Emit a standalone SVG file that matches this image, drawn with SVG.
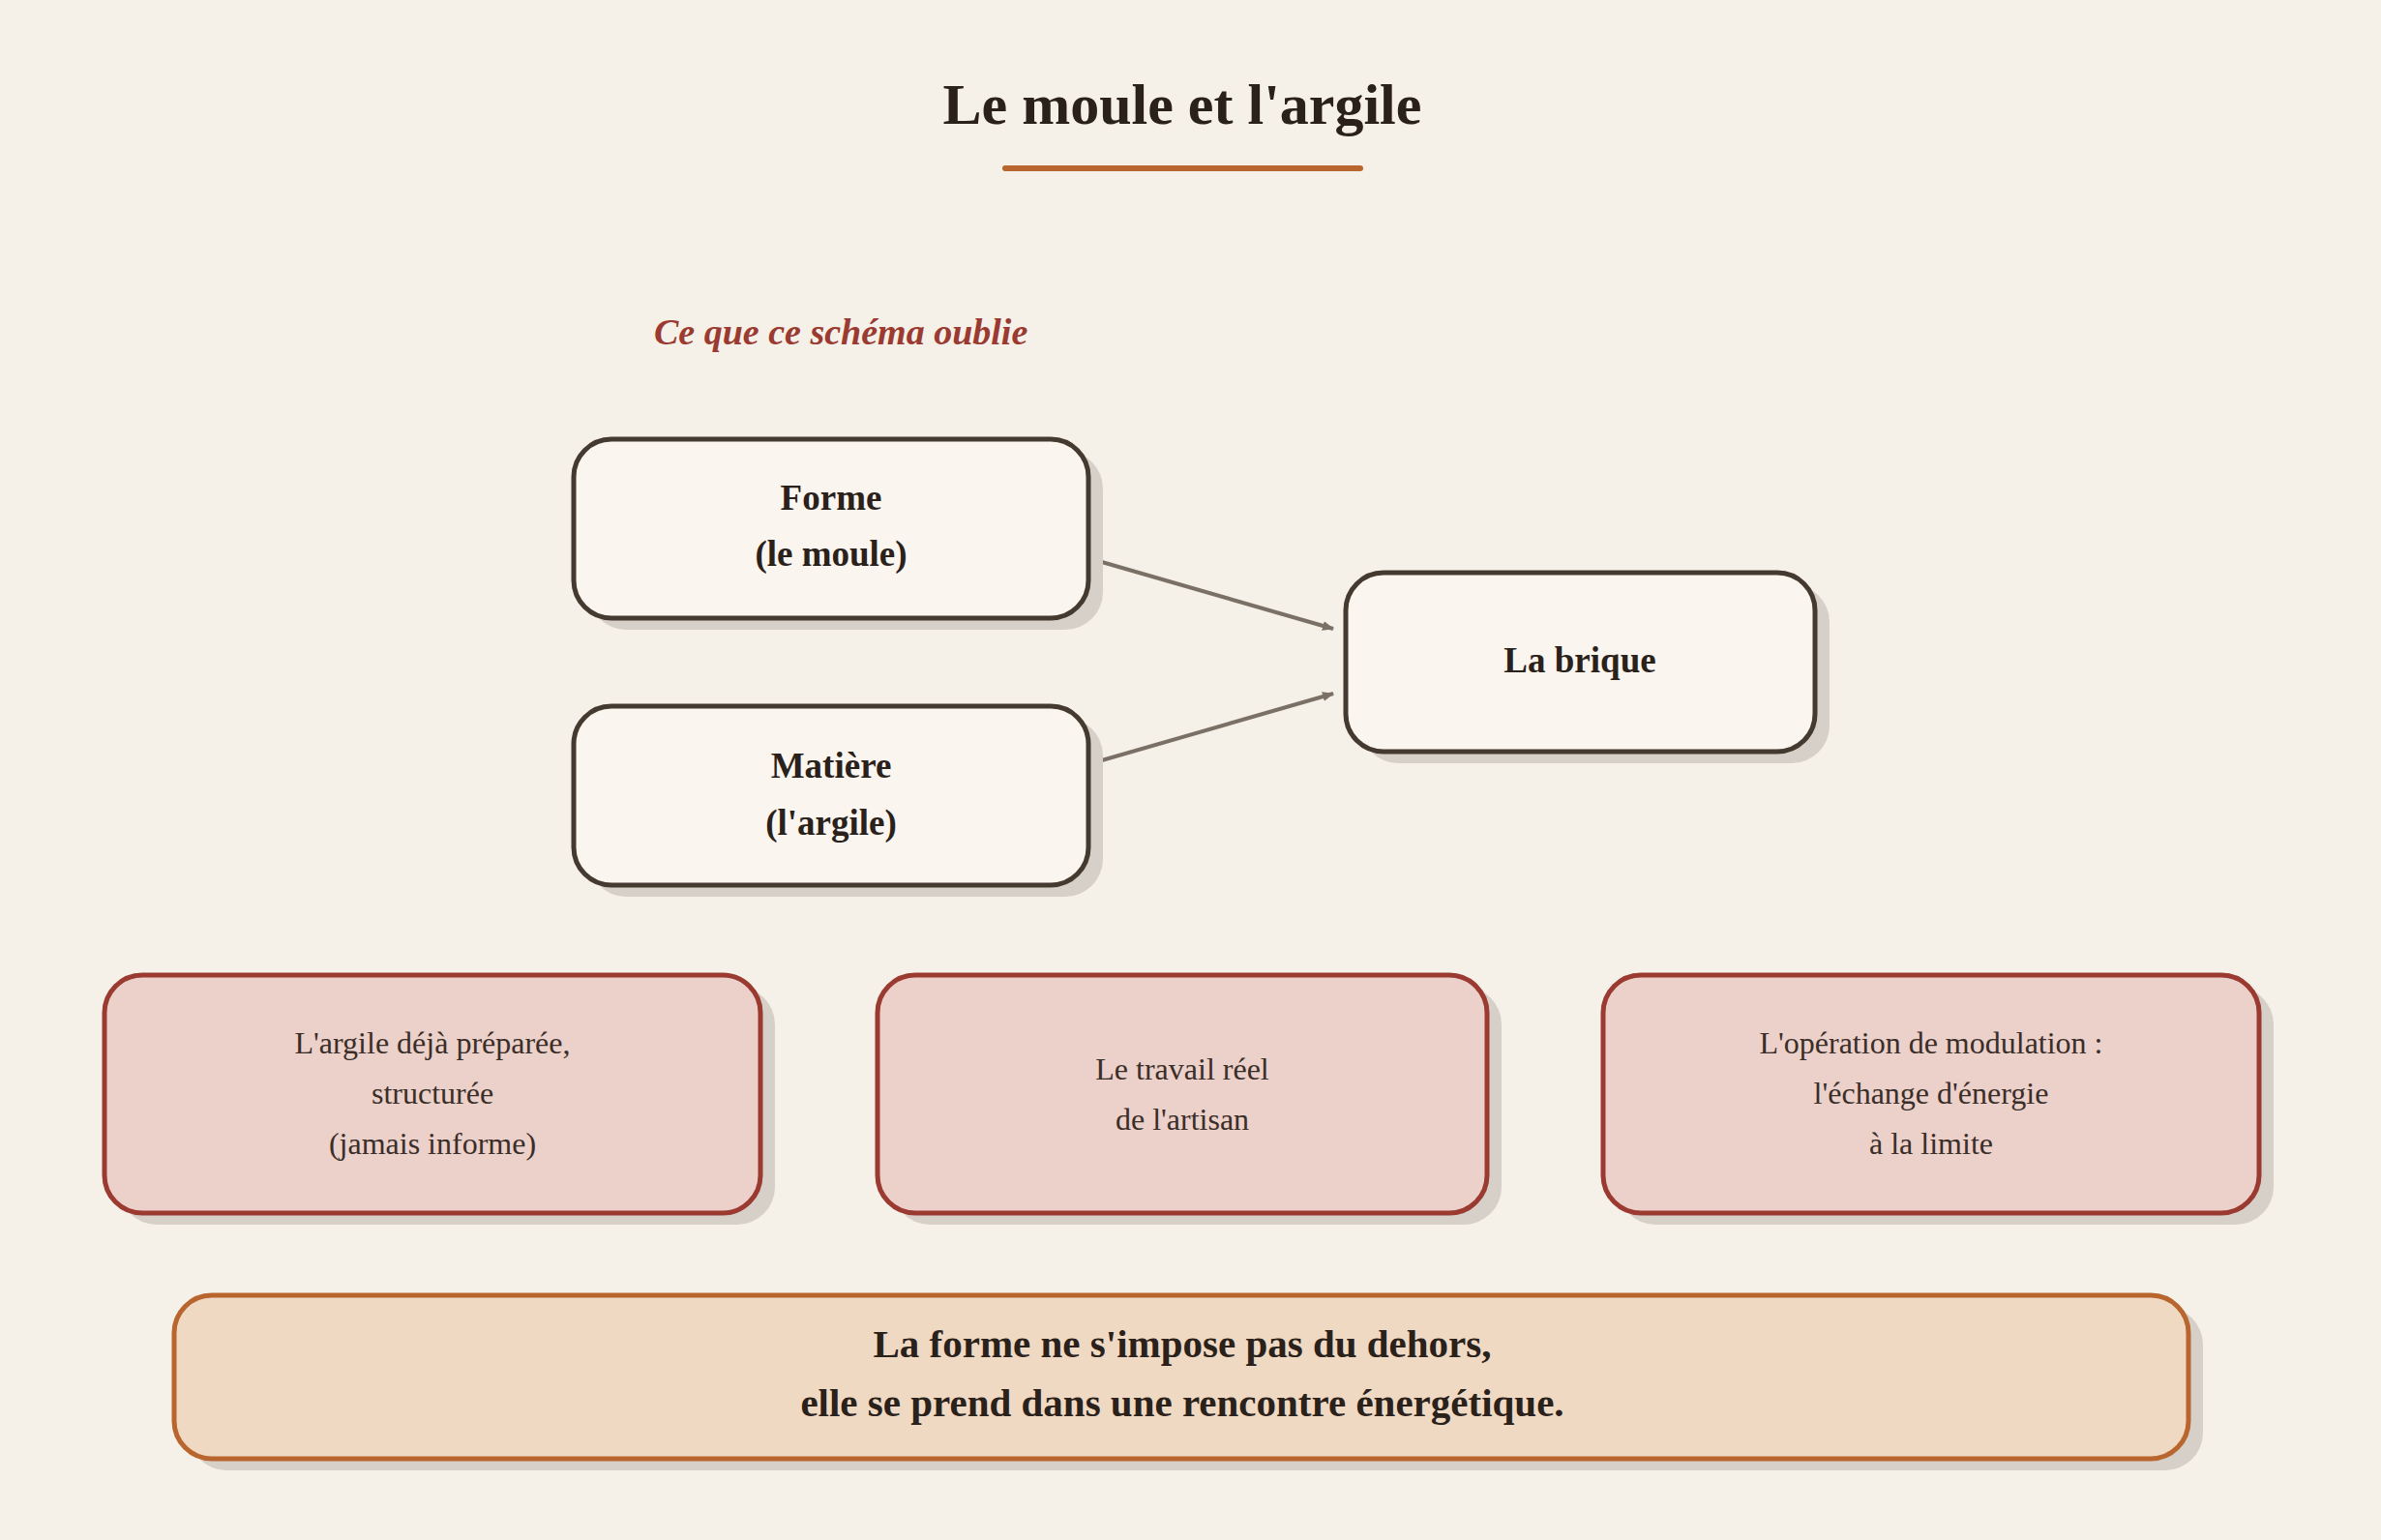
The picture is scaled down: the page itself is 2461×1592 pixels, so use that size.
<svg xmlns="http://www.w3.org/2000/svg" width="2461" height="1592" viewBox="0 0 2461 1592">
<style>
text{font-family:"Liberation Serif","DejaVu Serif",serif;fill:#2a211b;text-anchor:middle}
.n{font-size:37px;font-weight:bold}
.r{font-size:32px;fill:#3a2e28}
.sh{fill:#d6d0c8}
.box{fill:#faf5ee;stroke:#453a30;stroke-width:5}
.red{fill:#ecd0ca;stroke:#9a3a30;stroke-width:5}
</style>
<defs>
<marker id="ah" markerWidth="12" markerHeight="10" refX="11" refY="5" orient="auto" markerUnits="userSpaceOnUse" viewBox="0 0 12 10"><path d="M0,0L12,5L0,10z" fill="#7a7066"/></marker>
</defs>
<rect width="2461" height="1592" fill="#f5f0e8"/>
<g id="title">
<text x="1222" y="128" style="font-size:60px;font-weight:bold">Le moule et l'argile</text>
<line x1="1039" y1="174" x2="1406" y2="174" stroke="#b8652e" stroke-width="6" stroke-linecap="round"/>
<text x="676" y="356" style="font-size:38px;font-weight:bold;font-style:italic;fill:#9a3a30;text-anchor:start">Ce que ce schéma oublie</text>
</g>
<g id="connectors" stroke="#7a7066" stroke-width="4" fill="none">
<line x1="1132" y1="579" x2="1378" y2="650" marker-end="url(#ah)"/>
<line x1="1132" y1="788" x2="1378" y2="717" marker-end="url(#ah)"/>
</g>
<g id="forme">
<rect class="sh" x="608" y="466" width="532" height="185" rx="39"/>
<rect class="box" x="593" y="454" width="532" height="185" rx="39"/>
<text class="n" x="859" y="527">Forme</text>
<text class="n" x="859" y="585">(le moule)</text>
</g>
<g id="matiere">
<rect class="sh" x="608" y="742" width="532" height="185" rx="39"/>
<rect class="box" x="593" y="730" width="532" height="185" rx="39"/>
<text class="n" x="859" y="804">Matière</text>
<text class="n" x="859" y="863">(l'argile)</text>
</g>
<g id="brique">
<rect class="sh" x="1406" y="604" width="485" height="185" rx="39"/>
<rect class="box" x="1391" y="592" width="485" height="185" rx="39"/>
<text class="n" x="1633" y="695">La brique</text>
</g>
<g id="oubli1">
<rect class="sh" x="123" y="1020" width="678" height="246" rx="39"/>
<rect class="red" x="108" y="1008" width="678" height="246" rx="39"/>
<text class="r" x="447" y="1089">L'argile déjà préparée,</text>
<text class="r" x="447" y="1141">structurée</text>
<text class="r" x="447" y="1193">(jamais informe)</text>
</g>
<g id="oubli2">
<rect class="sh" x="922" y="1020" width="630" height="246" rx="39"/>
<rect class="red" x="907" y="1008" width="630" height="246" rx="39"/>
<text class="r" x="1222" y="1116">Le travail réel</text>
<text class="r" x="1222" y="1168">de l'artisan</text>
</g>
<g id="oubli3">
<rect class="sh" x="1672" y="1020" width="678" height="246" rx="39"/>
<rect class="red" x="1657" y="1008" width="678" height="246" rx="39"/>
<text class="r" x="1996" y="1089">L'opération de modulation :</text>
<text class="r" x="1996" y="1141">l'échange d'énergie</text>
<text class="r" x="1996" y="1193">à la limite</text>
</g>
<g id="conclusion">
<rect class="sh" x="195" y="1351" width="2082" height="169" rx="39"/>
<rect x="180" y="1339" width="2082" height="169" rx="39" fill="#f0d9c2" stroke="#b8652e" stroke-width="5"/>
<text x="1222" y="1403" style="font-size:41px;font-weight:bold">La forme ne s'impose pas du dehors,</text>
<text x="1222" y="1464" style="font-size:41px;font-weight:bold">elle se prend dans une rencontre énergétique.</text>
</g>
</svg>
